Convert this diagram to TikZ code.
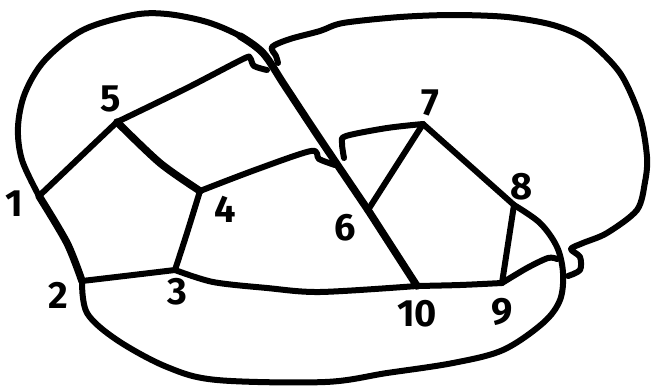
\documentclass[tikz,border=0pt]{standalone}
\usepackage{fontspec}
\newfontfamily\digitfont{Fira Sans}
\begin{document}
\begin{tikzpicture}[x=1pt,y=-1pt,
  edge/.style={line width=6pt, line cap=round, line join=round},
  thick edge/.style={edge, line width=7.5pt},
  lbl/.style={font=\digitfont\bfseries\fontsize{38}{38}\selectfont, inner sep=0pt}]
\useasboundingbox (0,0) rectangle (655,386);
% vertices
\coordinate (v1) at (39,196);
\coordinate (v2) at (82,281);
\coordinate (v3) at (175,270);
\coordinate (v4) at (200,191);
\coordinate (v5) at (117,122);
\coordinate (v6) at (368,210);
\coordinate (v7) at (423,124);
\coordinate (v8) at (514,205);
\coordinate (v9) at (502,283);
\coordinate (v10) at (417,286);
% hook ends at crossings
\coordinate (hA) at (267,70);
\coordinate (hB) at (278,63);
\coordinate (hC) at (335,165);
\coordinate (hD) at (344,158);
\coordinate (hE) at (557,259);
\coordinate (hF) at (568,276);
% labels
\node[lbl] (l1) at (14,204) {1};
\node[lbl] (l2) at (58,295) {2};
\node[lbl] (l3) at (177,292) {3};
\node[lbl] (l4) at (225,209) {4};
\node[lbl] (l5) at (111,99) {5};
\node[lbl] (l6) at (345,228) {6};
\node[lbl] (l7) at (430,103) {7};
\node[lbl] (l8) at (522,187) {8};
\node[lbl] (l9) at (502,312) {9};
\node[lbl] (l10) at (417,314) {10};
% outer pentagon
\draw[thick edge] plot[smooth] coordinates {(v1) (67,243) (v2)};
\draw[edge] plot[smooth] coordinates {(v2) (133,275) (v3)};
\draw[edge] plot[smooth] coordinates {(v3) (187,233) (v4)};
\draw[thick edge] plot[smooth] coordinates {(v4) (160,163) (v5)};
\draw[edge] (v5) -- (v1);
% inner
\draw[thick edge] (v6) -- (v10);
\draw[edge] (v7) -- (v6);
\draw[edge] (v7) -- (v8);
\draw[edge] (v8) -- (v9);
\draw[edge] plot[smooth] coordinates {(v10) (460,285) (v9)};
\draw[edge] plot[smooth] coordinates {(v3) (213,282) (267,288) (320,292) (v10)};
% 1-6 big loop
\draw[edge] plot[smooth, tension=0.55] coordinates {(v1) (22,160) (18,127) (25,93) (45,60) (83,30) (133,15) (167,14) (207,22) (240,36) (263,53)};
\draw[thick edge] plot[smooth, tension=0.55] coordinates {(240,36) (263,53) (285,86) (320,139) (v6)};
% 8-2 bottom loop
\draw[edge] plot[smooth, tension=0.55] coordinates {(v8) (540,223) (557,247) (563,273) (560,300) (543,323) (503,350) (453,363) (387,373) (325,382) (217,380) (167,367) (117,340) (87,313) (v2)};
% 5-9 with crossings
\draw[edge] plot[smooth, tension=0.5] coordinates {(v5) (187,88) (243,59) (250,58) (254,66) (hA)};
\draw[edge] plot[smooth, tension=0.5] coordinates {(hB) (276,56) (272,47) (290,39) (320,31) (343,23) (400,17) (453,15) (507,17) (553,25) (587,40) (620,73) (640,117) (647,157) (645,182) (637,210) (607,233) (583,243) (571,249) (580,257) (580,270) (hF)};
\draw[edge] plot[smooth, tension=0.5] coordinates {(v9) (527,268) (548,258) (hE)};
% 4-7 with crossing
\draw[edge] plot[smooth, tension=0.5] coordinates {(v4) (255,170) (311,151) (319,159) (hC)};
\draw[edge] plot[smooth, tension=0.5] coordinates {(v7) (387,128) (346,136) (342,143) (hD)};
\end{tikzpicture}
\end{document}
